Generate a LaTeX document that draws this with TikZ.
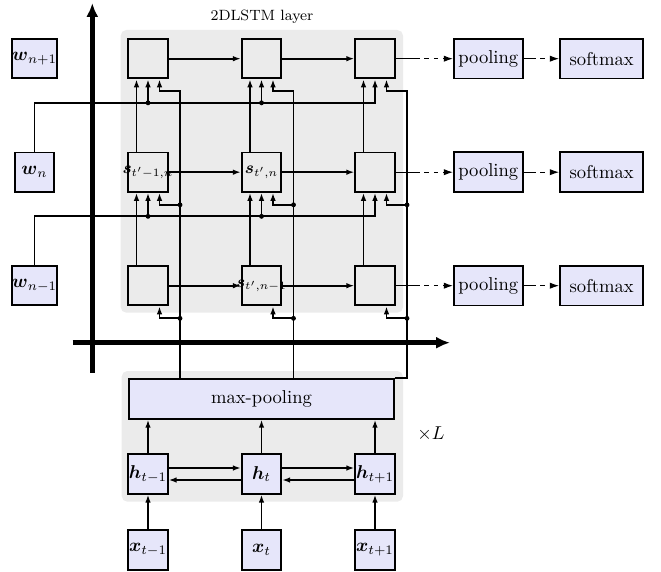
\documentclass[tikz,border=0pt]{standalone}
\usepackage{amsmath}
\usetikzlibrary{calc,arrows.meta}
\definecolor{boxfill}{HTML}{E6E6FA}
\definecolor{bggray}{HTML}{EBEBEB}
\tikzset{
  conn/.style={line width=1pt},
  arr/.style={conn,-{Latex[length=4.3pt,width=3pt]}},
  cell/.style={draw,line width=1pt,minimum size=21.2pt,inner sep=0pt},
  inbox/.style={cell,fill=boxfill,inner sep=0pt},
  txtbox/.style={draw,line width=1pt,fill=boxfill,minimum height=21.3pt,inner sep=0pt},
  bg/.style={fill=bggray,rounded corners=3pt},
  axis/.style={line width=2.5pt,-{Latex[length=7.5pt,width=6.5pt]}},
  dot/.style={circle,fill,inner sep=0pt,minimum size=2.6pt},
  slab/.style={font=\small,inner sep=0pt},
  dashA/.style={line width=0.6pt,-{Latex[length=5pt,width=3.4pt]},dash pattern=on 13pt off 2.5pt on 2.5pt off 2.5pt on 2.5pt off 2.5pt},
  dashB/.style={line width=0.6pt,-{Latex[length=5pt,width=3.4pt]},dash pattern=on 6.5pt off 2.5pt on 2.7pt off 2.5pt},
}
\begin{document}
\begin{tikzpicture}[x=0.5376pt,y=-0.5376pt]
\useasboundingbox (0,0) rectangle (661,571);
% backgrounds
\fill[bg] (120.7,30) rectangle (403,312.7);
\fill[bg] (121.7,371) rectangle (403,501.7);
\node[font=\footnotesize] (title) at (262,17) {2DLSTM layer};
\node (times) at (431,434) {$\times L$};
% axes
\draw[axis] (92.3,372.7) -- (92.3,3);
\draw[axis] (72.7,342.7) -- (450,342.7);
% grid cells
\node[cell] (c11) at (148,58.7) {};
\node[cell] (c21) at (261.5,58.7) {};
\node[cell] (c31) at (375,58.7) {};
\node[cell] (c12) at (148,172.2) {};
\node[cell] (c22) at (261.5,172.2) {};
\node[cell] (c32) at (375,172.2) {};
\node[cell] (c13) at (148,285.7) {};
\node[cell] (c23) at (261.5,285.7) {};
\node[cell] (c33) at (375,285.7) {};
% w inputs
\node[inbox] (w1) at (34.5,58.7) {$\boldsymbol{w}_{n+1}$};
\node[inbox] (w2) at (34.5,172.2) {$\boldsymbol{w}_{n}$};
\node[inbox] (w3) at (34.5,285.7) {$\boldsymbol{w}_{n-1}$};
% pooling / softmax
\foreach \r/\y in {1/58.7,2/172.2,3/285.7}{
  \node[txtbox,minimum width=36.9pt] (p\r) at (488.3,\y) {pooling};
  \node[txtbox,minimum width=44.8pt] (s\r) at (601.7,\y) {softmax};
  \draw[dashA] (c3\r.east) -- (p\r.west);
  \draw[dashB] (p\r.east) -- (s\r.west);
  \draw[arr] (c1\r.east) -- (c2\r.west);
  \draw[arr] (c2\r.east) -- (c3\r.west);
}
% bottom part
\node[txtbox,minimum width=142.5pt] (mp) at (261.5,399) {max-pooling};
\node[inbox] (h1) at (148,474) {$\boldsymbol{h}_{t-1}$};
\node[inbox] (h2) at (261.5,474) {$\boldsymbol{h}_{t}$};
\node[inbox] (h3) at (375,474) {$\boldsymbol{h}_{t+1}$};
\node[inbox] (x1) at (148,550) {$\boldsymbol{x}_{t-1}$};
\node[inbox] (x2) at (261.5,550) {$\boldsymbol{x}_{t}$};
\node[inbox] (x3) at (375,550) {$\boldsymbol{x}_{t+1}$};
\foreach \i in {1,2,3}{
  \draw[arr] (x\i.north) -- (h\i.south);
  \draw[arr] (h\i.north) -- (h\i.north |- mp.south);
}
\draw[arr] ($(h1.east)+(0,-6)$) -- ($(h2.west)+(0,-6)$);
\draw[arr] ($(h2.east)+(0,-6)$) -- ($(h3.west)+(0,-6)$);
\draw[arr] ($(h2.west)+(0,6)$) -- ($(h1.east)+(0,6)$);
\draw[arr] ($(h3.west)+(0,6)$) -- ($(h2.east)+(0,6)$);
% left inputs from lower cells
\foreach \c in {1,2,3}{
  \draw[arr] ($(c\c2.north)+(-11.5,0)$) -- ($(c\c1.south)+(-11.5,0)$);
  \draw[arr] ($(c\c3.north)+(-11.5,0)$) -- ($(c\c2.south)+(-11.5,0)$);
}
% word inputs
\coordinate (wr1) at ($(c31.south)+(0,23.5)$);
\coordinate (wr2) at ($(c32.south)+(0,23.5)$);
\draw[arr] (w2.north) |- (wr1) -- (c31.south);
\draw[arr] (w3.north) |- (wr2) -- (c32.south);
\foreach \c in {1,2}{
  \draw[arr] (c\c1.south |- wr1) -- (c\c1.south);
  \node[dot] (da\c) at (c\c1.south |- wr1) {};
  \draw[arr] (c\c2.south |- wr2) -- (c\c2.south);
  \node[dot] (db\c) at (c\c2.south |- wr2) {};
}
% max-pooling feedback lines
\coordinate (v1) at ($(c11.south)+(32,12)$);
\coordinate (v2) at ($(c21.south)+(32,12)$);
\coordinate (v3) at ($(c31.south)+(32,12)$);
\draw[arr] (mp.north -| v1) -- (v1) -| ($(c11.south)+(11.5,0)$);
\draw[arr] (mp.north -| v2) -- (v2) -| ($(c21.south)+(11.5,0)$);
\draw[arr] (mp.north east) -| (v3) -| ($(c31.south)+(11.5,0)$);
\foreach \c in {1,2,3}{
  \draw[arr] ($(c\c2.south)+(32,12)$) -| ($(c\c2.south)+(11.5,0)$);
  \node[dot] (dc\c) at ($(c\c2.south)+(32,12)$) {};
  \draw[arr] ($(c\c3.south)+(32,12)$) -| ($(c\c3.south)+(11.5,0)$);
  \node[dot] (dd\c) at ($(c\c3.south)+(32,12)$) {};
}
% cell labels on top
\node[slab] (l12) at (c12) {$\boldsymbol{s}_{t'-1,n}$};
\node[slab] (l22) at (c22) {$\boldsymbol{s}_{t',n}$};
\node[slab] (l23) at (c23) {$\boldsymbol{s}_{t',n-1}$};
\end{tikzpicture}
\end{document}
